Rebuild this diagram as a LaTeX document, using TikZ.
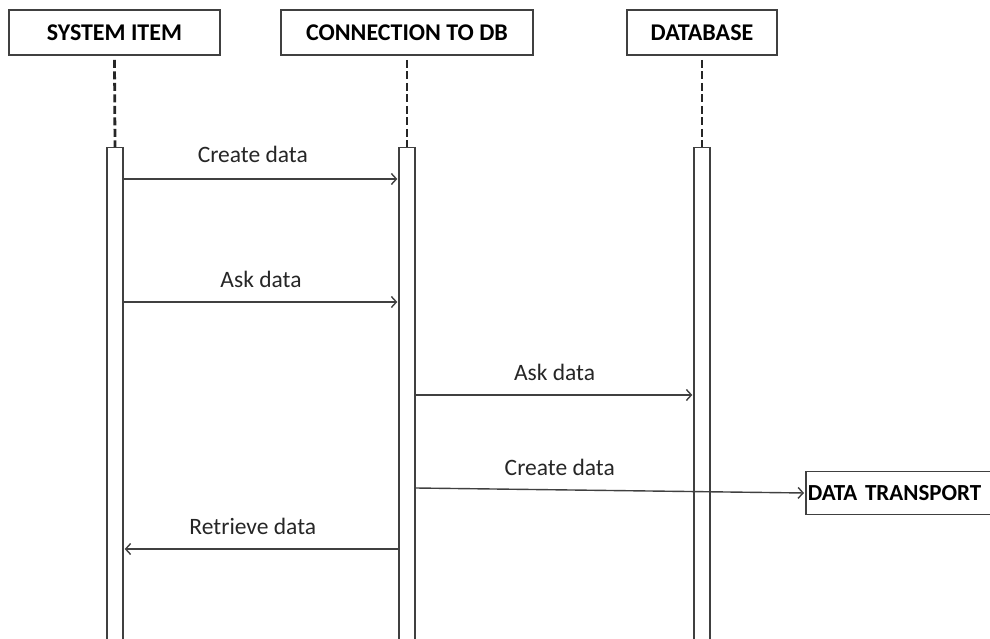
\documentclass[tikz,border=0pt]{standalone}
\usepackage{fontspec}
\setmainfont{Carlito}
\usetikzlibrary{positioning,arrows.meta}
\begin{document}
\begin{tikzpicture}[x=1pt,y=-1pt,
    head/.style={draw=black!75,line width=1.6pt,minimum height=45pt,inner sep=0pt,font=\fontsize{24}{28}\selectfont\bfseries},
    bar/.style={draw=black!75,fill=white,line width=1.4pt,minimum width=16pt,minimum height=500pt,inner sep=0pt},
    life/.style={line width=2.8pt,black!85,dash pattern=on 8pt off 3.5pt},
    msg/.style={-{Straight Barb[length=5pt,width=11pt]},line width=1.4pt,black!75,shorten >=1pt},
    lbl/.style={font=\fontsize{23.5}{27}\selectfont,text=black!85}]
\useasboundingbox (0,0) rectangle (990,639);
% heads
\node[head,minimum width=211pt] (sys) at (114.5,32.5) {SYSTEM ITEM};
\node[head,minimum width=252pt] (conn) at (407,32.5) {CONNECTION TO DB};
\node[head,minimum width=150pt] (db) at (702,32.5) {DATABASE};
% activation bars
\node[bar,anchor=north] (sysbar) at (115,147) {};
\node[bar,anchor=north] (connbar) at (407,147) {};
\node[bar,anchor=north] (dbbar) at (702,147) {};
\foreach \h in {sys,conn,db}
    \draw[life] (\h.south) ++(0,4) -- (\h bar.north);
% messages
\draw[msg] (sysbar.east |- 0,179) -- (connbar.west |- 0,179) node[lbl,pos=0.47,above=12pt] {Create data};
\draw[msg] (sysbar.east |- 0,302) -- (connbar.west |- 0,302) node[lbl,midway,above=10pt] {Ask data};
\draw[msg] (connbar.east |- 0,395) -- (dbbar.west |- 0,395) node[lbl,midway,above=10pt] {Ask data};
\node[draw=black!75,line width=1.6pt,minimum height=43pt,text width=190pt,align=left,inner xsep=2pt,inner ysep=0pt,anchor=west,
      font=\fontsize{23}{27}\selectfont\bfseries] (trans) at (805,493) {DATA TRANSPORT};
\draw[msg] (connbar.east |- 0,488) -- (trans.west) node[lbl,pos=0.37,above=10pt] {Create data};
\draw[msg] (connbar.west |- 0,549) -- (sysbar.east |- 0,549) node[lbl,pos=0.53,above=10pt] {Retrieve data};
\end{tikzpicture}
\end{document}
